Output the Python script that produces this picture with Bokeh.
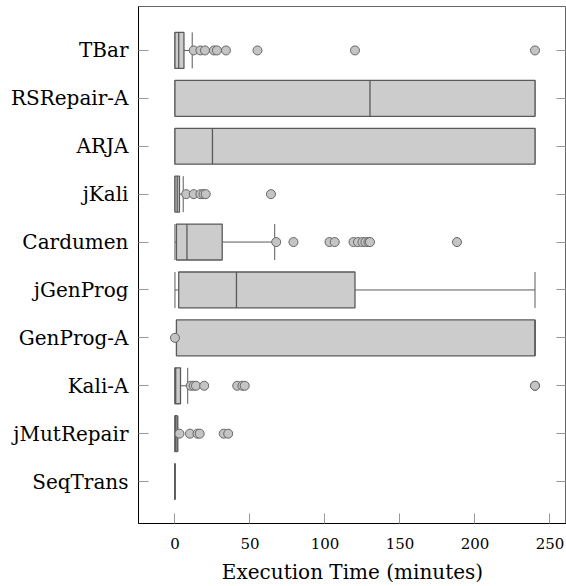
from bokeh.plotting import figure
from bokeh.models import Range1d, FixedTicker, LinearAxis, ColumnDataSource
from bokeh.embed import file_html
from bokeh.resources import INLINE

# ---- data (top to bottom) ----
tools = ["TBar", "RSRepair-A", "ARJA", "jKali", "Cardumen", "jGenProg",
         "GenProg-A", "Kali-A", "jMutRepair", "SeqTrans"]
lower_whisker = [0, 0, 0, 0, 0, 0, 1, 0, 0, 0]
q1 = [0, 0, 0, 0, 1, 2.5, 1, 0, 0, 0]
median = [2.5, 130, 25, 1.5, 8, 41, 240, 0.5, 0.5, 0]
q3 = [6, 240, 240, 3, 31.5, 120, 240, 3.7, 1.5, 0]
upper_whisker = [11.5, 240, 240, 5.5, 66.5, 240, 240, 8.5, 2, 0]
outliers = {
    "TBar": [12.5, 17, 20, 26, 28, 34, 55, 120, 240],
    "RSRepair-A": [],
    "ARJA": [],
    "jKali": [7.5, 12.5, 17, 19, 20.5, 64],
    "Cardumen": [67.5, 79, 103, 106.5, 119, 122, 125, 127, 129, 130, 188],
    "jGenProg": [],
    "GenProg-A": [0],
    "Kali-A": [10.5, 12.5, 14, 19.5, 41.5, 45, 46.5, 240, 240],
    "jMutRepair": [3, 10, 15, 16.5, 32.5, 35.5],
    "SeqTrans": [],
}
x_ticks = [0, 50, 100, 150, 200, 250]
x_title = "Execution Time (minutes)"

# ---- derived ----
n = len(tools)
ypos = [n - 1 - i for i in range(n)]
box_h = 0.75
FONT = "DejaVu Serif"
EDGE = "#5a5a5a"

p = figure(width=566, height=586,
           x_range=Range1d(-24.3, 261), y_range=Range1d(-0.875, 9.917),
           output_backend="svg", toolbar_location=None,
           min_border_left=138, min_border_right=0,
           min_border_top=6, min_border_bottom=62)
p.outline_line_color = "#666666"
p.outline_line_width = 1
p.xgrid.visible = False
p.ygrid.visible = False
p.background_fill_color = "white"
p.border_fill_color = "white"

src = ColumnDataSource(dict(
    y=ypos, lw=lower_whisker, q1=q1, med=median, q3=q3, uw=upper_whisker,
    ylo=[v - box_h / 2 for v in ypos], yhi=[v + box_h / 2 for v in ypos],
))

# whiskers
p.segment(x0="lw", x1="q1", y0="y", y1="y", source=src, line_color=EDGE, line_width=1)
p.segment(x0="q3", x1="uw", y0="y", y1="y", source=src, line_color=EDGE, line_width=1)
# caps
p.segment(x0="lw", x1="lw", y0="ylo", y1="yhi", source=src, line_color=EDGE, line_width=1)
p.segment(x0="uw", x1="uw", y0="ylo", y1="yhi", source=src, line_color=EDGE, line_width=1)
# boxes
p.hbar(y="y", left="q1", right="q3", height=box_h, source=src,
       fill_color="#cccccc", line_color=EDGE, line_width=1.3)
# medians
p.segment(x0="med", x1="med", y0="ylo", y1="yhi", source=src, line_color=EDGE, line_width=1.3)

# outliers
ox, oy = [], []
for name, yv in zip(tools, ypos):
    for v in outliers[name]:
        ox.append(v)
        oy.append(yv)
p.scatter(ox, oy, size=9, marker="circle", fill_color="#c4c4c4",
          line_color="#666666", line_width=1)

# x axis
xa = p.xaxis[0]
xa.ticker = FixedTicker(ticks=x_ticks)
xa.minor_tick_line_color = None
xa.major_tick_in = 10
xa.major_tick_out = 0
xa.major_tick_line_color = "#999999"
xa.axis_line_color = "black"
xa.major_label_text_font = FONT
xa.major_label_text_font_size = "15px"
xa.major_label_text_color = "black"
xa.major_label_standoff = 14
xa.axis_label = x_title
xa.axis_label_text_font = FONT
xa.axis_label_text_font_size = "20px"
xa.axis_label_text_font_style = "normal"
xa.axis_label_text_color = "black"
xa.axis_label_standoff = 8

# y axis
ya = p.yaxis[0]
ya.ticker = FixedTicker(ticks=ypos)
ya.major_label_overrides = {yv: name for name, yv in zip(tools, ypos)}
ya.minor_tick_line_color = None
ya.major_tick_in = 10
ya.major_tick_out = 0
ya.major_tick_line_color = "#999999"
ya.axis_line_color = "black"
ya.major_label_text_font = FONT
ya.major_label_text_font_size = "20px"
ya.major_label_text_color = "black"
ya.major_label_standoff = 10

# right ticks (no labels)
ra = LinearAxis(ticker=FixedTicker(ticks=ypos))
ra.major_label_overrides = {yv: "" for yv in ypos}
ra.major_label_standoff = 0
ra.major_tick_in = 10
ra.major_tick_out = 0
ra.major_tick_line_color = "#999999"
ra.minor_tick_line_color = None
ra.axis_line_color = None
p.add_layout(ra, "right")

open("out.html", "w").write(file_html(p, INLINE))
